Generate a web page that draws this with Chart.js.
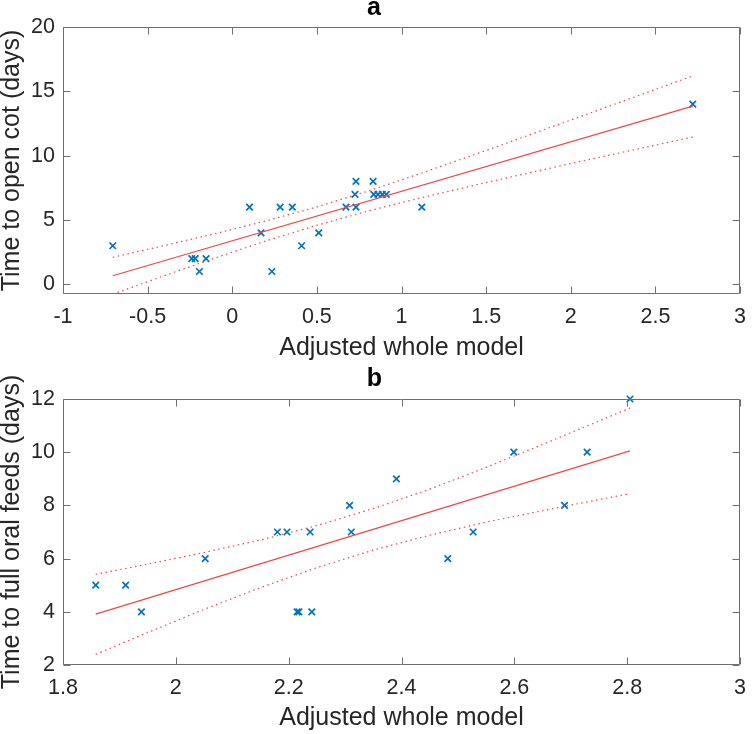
<!DOCTYPE html>
<html><head><meta charset="utf-8">
<script src="https://cdn.jsdelivr.net/npm/chart.js@4.4.0/dist/chart.umd.min.js"></script>
<style>
html,body{margin:0;padding:0;background:#fff;}
#wrap{position:relative;width:756px;height:734px;overflow:hidden;background:#fff;}
canvas{position:absolute;left:0;}
</style></head><body>
<div id="wrap">
<canvas id="ca" width="756" height="367" style="top:0;width:756px;height:367px"></canvas>
<canvas id="cb" width="756" height="367" style="top:367px;width:756px;height:367px"></canvas>
</div>
<script>
// ---------- Panel a data ----------
const titleA = 'a';
const xLabelA = 'Adjusted whole model';
const yLabelA = 'Time to open cot (days)';
const xTicksA = [-1, -0.5, 0, 0.5, 1, 1.5, 2, 2.5, 3];
const yTicksA = [0, 5, 10, 15, 20];
const xA = [-0.706, -0.239, -0.219, -0.194, -0.155, 0.102, 0.170, 0.234, 0.283, 0.355, 0.410, 0.511, 0.672, 0.725, 0.731, 0.731, 0.832, 0.836, 0.861, 0.887, 0.910, 1.120, 2.721];
const yA = [3, 2, 2, 1, 2, 6, 4, 1, 6, 6, 3, 4, 6, 7, 8, 6, 8, 7, 7, 7, 7, 6, 14];
const fitXA = [-0.706, 2.721];
const fitYA = [0.67, 13.85];
const ciXA = [-0.706, -0.4, -0.1, 0.2, 0.5, 0.8, 1.1, 1.5, 2.0, 2.721];
const ciUpA = [2.10, 3.02, 3.94, 4.93, 6.02, 7.24, 8.56, 10.40, 12.77, 16.20];
const ciLoA = [-0.76, 0.68, 2.06, 3.38, 4.59, 5.69, 6.68, 7.91, 9.39, 11.45];

// ---------- Panel b data ----------
const titleB = 'b';
const xLabelB = 'Adjusted whole model';
const yLabelB = 'Time to full oral feeds (days)';
const xTicksB = [1.8, 2, 2.2, 2.4, 2.6, 2.8, 3];
const yTicksB = [2, 4, 6, 8, 10, 12];
const xB = [1.858, 1.911, 1.939, 2.052, 2.180, 2.197, 2.215, 2.218, 2.238, 2.241, 2.308, 2.311, 2.391, 2.482, 2.527, 2.599, 2.689, 2.729, 2.805];
const yB = [5, 5, 4, 6, 7, 7, 4, 4, 7, 4, 8, 7, 9, 6, 7, 10, 8, 10, 12];
const fitXB = [1.858, 2.805];
const fitYB = [3.91, 10.05];
const ciXB = [1.858, 1.95, 2.05, 2.15, 2.25, 2.35, 2.45, 2.55, 2.65, 2.75, 2.805];
const ciUpB = [5.41, 5.79, 6.23, 6.70, 7.24, 7.88, 8.61, 9.43, 10.29, 11.17, 11.66];
const ciLoB = [2.40, 3.22, 4.09, 4.91, 5.66, 6.32, 6.88, 7.37, 7.80, 8.22, 8.44];

const FONT = "'Liberation Sans', Arial, Helvetica, sans-serif";
const TEXT = '#262626';
const AXIS = '#6f6f6f';
const BLUE = '#0072BD';
const RED = 'rgb(240,70,70)';

function pts(xs, ys) { return xs.map((x, i) => ({x: x, y: ys[i]})); }

const boxTicks = {
  id: 'boxTicks',
  afterDatasetsDraw(chart) {
    const {ctx, chartArea: a} = chart;
    const xs = chart.scales.x, ys = chart.scales.y;
    const L = 7;
    ctx.save();
    ctx.strokeStyle = AXIS;
    ctx.lineWidth = 1;
    ctx.beginPath();
    const l = Math.round(a.left) + 0.5, r = Math.round(a.right) - 0.5;
    const t = Math.round(a.top) + 0.5, b = Math.round(a.bottom) - 0.5;
    ctx.rect(l, t, r - l, b - t);
    xs.ticks.forEach(tk => {
      const px = Math.round(xs.getPixelForValue(tk.value)) + 0.5;
      ctx.moveTo(px, b); ctx.lineTo(px, b - L);
      ctx.moveTo(px, t); ctx.lineTo(px, t + L);
    });
    ys.ticks.forEach(tk => {
      const py = Math.round(ys.getPixelForValue(tk.value)) + 0.5;
      ctx.moveTo(l, py); ctx.lineTo(l + L, py);
      ctx.moveTo(r, py); ctx.lineTo(r - L, py);
    });
    ctx.stroke();
    ctx.restore();
  }
};

function makeChart(id, p) {
  return new Chart(document.getElementById(id), {
    type: 'scatter',
    data: {
      datasets: [
        {data: pts(p.fitX, p.fitY), showLine: true, borderColor: RED, borderWidth: 1.2, pointRadius: 0, fill: false},
        {data: pts(p.ciX, p.ciUp), showLine: true, borderColor: RED, borderWidth: 1.2, borderDash: [1.5, 3.5], pointRadius: 0, fill: false},
        {data: pts(p.ciX, p.ciLo), showLine: true, borderColor: RED, borderWidth: 1.2, borderDash: [1.5, 3.5], pointRadius: 0, fill: false},
        {data: pts(p.x, p.y), showLine: false, pointStyle: 'crossRot', pointRadius: 4.6, pointBorderWidth: 1.7, borderColor: BLUE, backgroundColor: BLUE, clip: false}
      ]
    },
    options: {
      responsive: false,
      animation: false,
      devicePixelRatio: 1,
      layout: {padding: {left: 0, right: p.padRight, top: 0, bottom: 0}},
      plugins: {
        legend: {display: false},
        tooltip: {enabled: false},
        title: {display: true, text: p.title, color: '#000',
          font: {family: FONT, size: 25, weight: 'bold', lineHeight: 0.6},
          padding: {top: p.titlePadTop, bottom: p.titlePadBottom}}
      },
      scales: {
        x: {
          type: 'linear', min: p.xTicks[0], max: p.xTicks[p.xTicks.length - 1],
          afterBuildTicks: s => { s.ticks = p.xTicks.map(v => ({value: v})); },
          afterFit: s => { s.height = p.xAxisH; },
          grid: {display: false, drawTicks: false},
          border: {display: false},
          ticks: {color: TEXT, padding: 10, maxRotation: 0, autoSkip: false,
            font: {family: FONT, size: 21.5}, callback: v => String(v)},
          title: {display: true, text: p.xLabel, color: TEXT,
            font: {family: FONT, size: 25, lineHeight: 1}, padding: {top: 0, bottom: p.xTitlePadBottom}}
        },
        y: {
          type: 'linear', min: p.yMin, max: p.yTicks[p.yTicks.length - 1],
          afterBuildTicks: s => { s.ticks = p.yTicks.map(v => ({value: v})); },
          afterFit: s => { s.width = 63; },
          grid: {display: false, drawTicks: false},
          border: {display: false},
          ticks: {color: TEXT, padding: 8, autoSkip: false,
            font: {family: FONT, size: 21.5}, callback: v => String(v)},
          title: {display: true, text: p.yLabel, color: TEXT,
            font: {family: FONT, size: 25, lineHeight: 1}, padding: {top: 0, bottom: 0}}
        }
      }
    },
    plugins: [boxTicks]
  });
}

makeChart('ca', {
  title: titleA, xLabel: xLabelA, yLabel: yLabelA,
  xTicks: xTicksA, yTicks: yTicksA, yMin: -0.75,
  x: xA, y: yA, fitX: fitXA, fitY: fitYA, ciX: ciXA, ciUp: ciUpA, ciLo: ciLoA,
  padRight: 8, xAxisH: 73, titlePadTop: 0.5, titlePadBottom: 11.5, xTitlePadBottom: 6.5
});
makeChart('cb', {
  title: titleB, xLabel: xLabelB, yLabel: yLabelB,
  xTicks: xTicksB, yTicks: yTicksB, yMin: 2,
  x: xB, y: yB, fitX: fitXB, fitY: fitYB, ciX: ciXB, ciUp: ciUpB, ciLo: ciLoB,
  padRight: 7, xAxisH: 69, titlePadTop: 5, titlePadBottom: 12, xTitlePadBottom: 3.5
});
</script>
</body></html>
